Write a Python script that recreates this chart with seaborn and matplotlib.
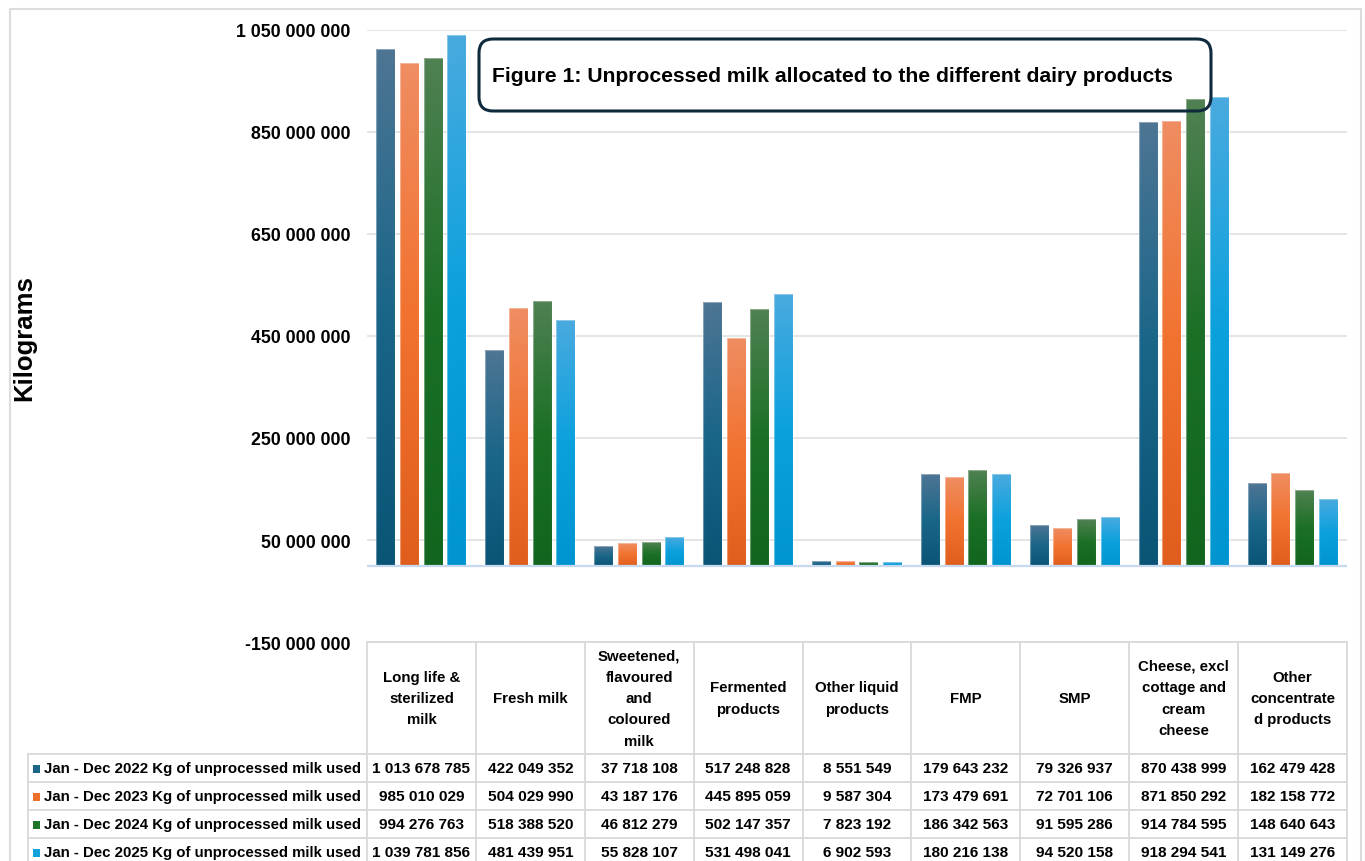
import numpy as np
import pandas as pd
import matplotlib
matplotlib.use("Agg")
import matplotlib.pyplot as plt
from matplotlib.colors import LinearSegmentedColormap
from matplotlib.patches import FancyBboxPatch, Rectangle
from matplotlib.lines import Line2D
import matplotlib.transforms as mtransforms
import seaborn as sns

# ---- data -------------------------------------------------------------
products = ["Long life & sterilized milk", "Fresh milk",
            "Sweetened, flavoured and coloured milk", "Fermented products",
            "Other liquid products", "FMP", "SMP",
            "Cheese, excl cottage and cream cheese", "Other concentrated products"]
header_labels = ["Long life &\nsterilized\nmilk", "Fresh milk",
                 "Sweetened,\nflavoured\nand\ncoloured\nmilk",
                 "Fermented\nproducts", "Other liquid\nproducts", "FMP", "SMP",
                 "Cheese, excl\ncottage and\ncream\ncheese",
                 "Other\nconcentrate\nd products"]
periods = ["Jan - Dec 2022 Kg of unprocessed milk used",
           "Jan - Dec 2023 Kg of unprocessed milk used",
           "Jan - Dec 2024 Kg of unprocessed milk used",
           "Jan - Dec 2025 Kg of unprocessed milk used"]
kg_2022 = [1013678785, 422049352, 37718108, 517248828, 8551549,
           179643232, 79326937, 870438999, 162479428]
kg_2023 = [985010029, 504029990, 43187176, 445895059, 9587304,
           173479691, 72701106, 871850292, 182158772]
kg_2024 = [994276763, 518388520, 46812279, 502147357, 7823192,
           186342563, 91595286, 914784595, 148640643]
kg_2025 = [1039781856, 481439951, 55828107, 531498041, 6902593,
           180216138, 94520158, 918294541, 131149276]
y_ticks = [-150e6, 50e6, 250e6, 450e6, 650e6, 850e6, 1050e6]

series = [kg_2022, kg_2023, kg_2024, kg_2025]
df = pd.DataFrame({
    "product": np.repeat([products], 4, axis=0).ravel(),
    "period": np.repeat(periods, len(products)),
    "kg": np.concatenate(series),
})

# ---- styling ----------------------------------------------------------
solid = ["#1C6588", "#EE6E2C", "#1E7428", "#13A2DC"]
grads = [("#4E7594", "#1A6689", "#0A5476"),
         ("#EF8D62", "#F2722F", "#E05E1D"),
         ("#508152", "#1B7026", "#11651E"),
         ("#49AADF", "#0BA1DD", "#0095D0")]

sns.set_theme(style="white")
plt.rcParams["font.family"] = ["Liberation Sans", "DejaVu Sans"]
plt.rcParams["text.color"] = "black"
plt.rcParams["ytick.color"] = "black"
plt.rcParams["ytick.labelcolor"] = "black"

W, H = 1365, 862
fig = plt.figure(figsize=(W / 100, H / 100), dpi=100)
fig.patch.set_facecolor("white")


def fx(px):
    return px / W


def fy(py):
    return 1 - py / H


ax = fig.add_axes([fx(367), fy(643), fx(1347) - fx(367), fy(31) - fy(643)])
sns.barplot(data=df, x="product", y="kg", hue="period", palette=solid,
            width=0.87, gap=0.2, saturation=1, legend=False, ax=ax,
            linewidth=0, zorder=2)

ax.set_xlim(-0.5, len(products) - 0.5)
ax.set_ylim(y_ticks[0], y_ticks[-1])

# vertical colour gradient on every bar
for cont, (c_top, c_mid, c_bot) in zip(ax.containers, grads):
    cmap = LinearSegmentedColormap.from_list(
        "g", [(0, c_top), (0.5, c_mid), (1, c_bot)])
    grad = np.linspace(0, 1, 256).reshape(-1, 1)
    for p in cont.patches:
        x0, w, h = p.get_x(), p.get_width(), p.get_height()
        ax.imshow(grad, cmap=cmap, extent=(x0, x0 + w, 0, h), origin="upper",
                  aspect="auto", interpolation="bilinear", zorder=2.5)
        p.set_facecolor("none")
        p.set_edgecolor((1, 1, 1, 0.35))
        p.set_linewidth(0.8)
        p.set_zorder(2.6)

ax.set_xlim(-0.5, len(products) - 0.5)
ax.set_ylim(y_ticks[0], y_ticks[-1])
ax.set_yticks(y_ticks)
ax.set_yticklabels([f"{int(v):,}".replace(",", " ") for v in y_ticks],
                   fontsize=12.8, fontweight="bold", color="black")
ax.tick_params(axis="y", length=0, pad=12)
ax.set_xticks([])
ax.set_xlabel("")
ax.set_ylabel("")
ax.yaxis.grid(True, color="#e3e3e3", lw=1.3)
ax.set_axisbelow(True)
for s in ax.spines.values():
    s.set_visible(False)
ax.axhline(0, color="#c6d9ef", lw=1.6, zorder=3)

fig.text(fx(24), fy(338), "Kilograms", rotation=90, fontsize=18.5,
         fontweight="bold", ha="center", va="center")

# ---- data table -----------------------------------------------------------
trans = mtransforms.blended_transform_factory(ax.transData, fig.transFigure)
line_c = "#d9d9d9"
edges = np.arange(len(products) + 1) - 0.5
top = fy(643)
row_lines = [fy(755), fy(783), fy(811), fy(839), fy(867)]
row_mid = [fy(769), fy(797), fy(825), fy(853)]

fig.add_artist(Line2D([edges[0], edges[-1]], [top, top], transform=trans,
                      color=line_c, lw=1.3))
for e in edges:
    fig.add_artist(Line2D([e, e], [top, 0], transform=trans, color=line_c, lw=1.3))
for yl in row_lines:
    fig.add_artist(Line2D([fx(28), fx(1347)], [yl, yl], transform=fig.transFigure,
                          color=line_c, lw=1.3))
fig.add_artist(Line2D([fx(28), fx(28)], [row_lines[0], 0],
                      transform=fig.transFigure, color=line_c, lw=1.3))

for i, lab in enumerate(header_labels):
    fig.text(i, fy(699), lab, transform=trans, ha="center", va="center",
             fontsize=10.8, fontweight="bold", linespacing=1.68)

for r, (lab, vals) in enumerate(zip(periods, series)):
    fig.add_artist(Rectangle((fx(33), row_mid[r] - 0.0058), fx(7), 0.0093,
                             transform=fig.transFigure, fc=solid[r], ec="none"))
    fig.text(fx(44), row_mid[r], lab, ha="left", va="center",
             fontsize=10.8, fontweight="bold")
    for i, v in enumerate(vals):
        fig.text(i, row_mid[r], f"{v:,}".replace(",", " "), transform=trans,
                 ha="center", va="center", fontsize=11.1, fontweight="bold")

# ---- title box ----------------------------------------------------------
box = FancyBboxPatch((479, H - 112), 732, 72,
                     boxstyle="round,pad=0,rounding_size=14",
                     transform=mtransforms.IdentityTransform(),
                     fc="none", ec="#0f2a3c", lw=2.2, zorder=10)
fig.add_artist(box)
fig.text(fx(492), fy(76), "Figure 1: Unprocessed milk allocated to the different dairy products",
         ha="left", va="center", fontsize=15.2, fontweight="bold")

# outer frame
fig.add_artist(Line2D([fx(10), fx(10), fx(1361), fx(1361)], [0, fy(10), fy(10), 0],
                      transform=fig.transFigure, color="#dcdcdc", lw=1.5))

fig.savefig("out.png", dpi=100, facecolor="white")
